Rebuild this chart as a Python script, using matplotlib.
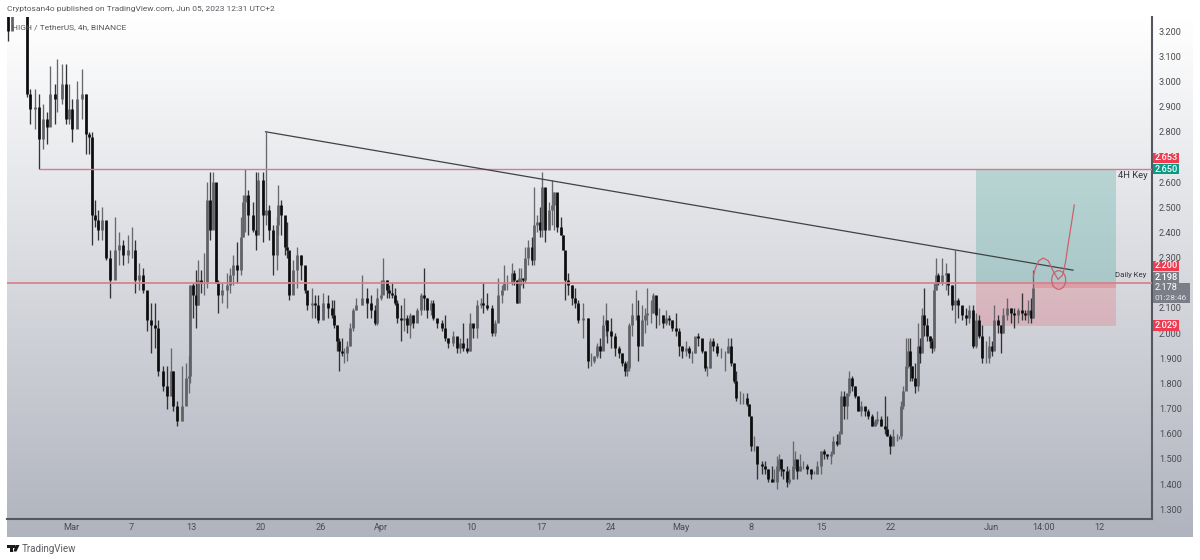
import numpy as np
import matplotlib
matplotlib.use("Agg")
import matplotlib.pyplot as plt
from matplotlib.collections import LineCollection
from matplotlib.patches import Rectangle, Polygon, Ellipse

plt.rcParams['font.family'] = ['Roboto', 'DejaVu Sans']

# ---- candles: day offset from 1 March, high, low, close (open = previous close) ----
d1 = [-6.3,-5.9,-5.5,-5.1,-4.7,-4.4,-4.1,-3.6,-3.2,-2.8,-2.4,-2.1,-1.6,-1.4,-0.9,-0.5,-0.2,0.1,0.6,1.1,1.5,1.8,2.1,2.4,2.7,3.1,3.5,3.9,4.4,4.8,5.2,5.7]
h1 = [3.30,3.45,3.50,3.50,3.42,3.30,2.97,2.97,2.95,2.91,2.88,3.06,2.99,3.09,3.07,3.07,2.99,2.93,3.00,3.05,2.95,2.80,2.80,2.53,2.49,2.50,2.43,2.33,2.46,2.40,2.37,2.39]
l1 = [3.16,3.30,3.35,3.35,3.28,2.94,2.83,2.81,2.65,2.73,2.75,2.88,2.83,2.88,2.91,2.83,2.83,2.76,2.87,2.85,2.71,2.71,2.35,2.42,2.37,2.37,2.29,2.14,2.22,2.27,2.27,2.28]
c1 = [3.20,3.40,3.45,3.40,3.32,2.95,2.89,2.90,2.77,2.85,2.82,2.95,2.93,2.93,2.99,2.85,2.89,2.81,2.93,2.95,2.79,2.78,2.47,2.45,2.41,2.45,2.30,2.21,2.33,2.35,2.31,2.33]

d2 = [6.07,6.4,6.83,7.23,7.57,7.97,8.4,8.73,9.17,9.57,10.03,10.23,10.63,11.07,11.5,11.83,11.9,12.17,12.5,12.73,12.97,13.3,13.63,13.9,14.23,14.5,14.73,15.07,15.57,15.9,16.23,16.57,17.0,17.23,17.4,17.73,18.17,18.5,18.73]
h2 = [2.42,2.37,2.28,2.26,2.15,2.12,2.12,2.05,1.87,1.87,1.94,1.85,1.73,1.87,1.88,1.91,2.19,2.20,2.25,2.29,2.25,2.32,2.60,2.64,2.64,2.59,2.21,2.20,2.24,2.26,2.31,2.36,2.46,2.55,2.65,2.57,2.52,2.64,2.64]
l2 = [2.30,2.16,2.17,2.16,2.01,1.92,1.94,1.83,1.77,1.70,1.75,1.69,1.63,1.65,1.75,1.76,1.80,2.06,2.02,2.11,2.16,2.15,2.18,2.37,2.43,2.20,2.08,2.12,2.10,2.16,2.19,2.20,2.23,2.38,2.40,2.39,2.40,2.33,2.41]
c2 = [2.33,2.21,2.23,2.17,2.05,2.03,2.02,1.85,1.79,1.75,1.85,1.71,1.65,1.71,1.82,1.83,2.19,2.15,2.11,2.21,2.20,2.20,2.53,2.41,2.60,2.20,2.15,2.17,2.19,2.23,2.27,2.25,2.38,2.52,2.55,2.47,2.41,2.39,2.61]

d3 = [19.23,19.45,19.83,20.23,20.57,20.73,20.97,21.4,21.63,21.83,22.23,22.63,22.97,23.4,23.63,24.07,24.4,24.73,25.23,25.73,26.07,26.3,26.63,26.83,27.07,27.3,27.63,27.9,28.17,28.5,29.07,29.57,29.97,30.4,30.63,30.97,31.17,31.57,31.83]
h3 = [2.64,2.80,2.51,2.43,2.46,2.59,2.53,2.44,2.44,2.31,2.29,2.34,2.31,2.26,2.16,2.18,2.15,2.15,2.16,2.15,2.13,2.13,2.03,1.98,1.98,1.94,1.97,2.04,2.10,2.14,2.23,2.18,2.15,2.11,2.18,2.21,2.30,2.21,2.19]
l3 = [2.36,2.43,2.37,2.23,2.25,2.39,2.39,2.31,2.30,2.13,2.16,2.18,2.21,2.16,2.09,2.06,2.06,2.04,2.06,2.06,2.06,2.02,1.93,1.85,1.91,1.88,1.89,1.95,2.01,2.09,2.11,2.06,2.06,2.03,2.03,2.13,2.18,2.14,2.14]
c3 = [2.47,2.49,2.41,2.31,2.43,2.51,2.47,2.34,2.33,2.15,2.25,2.31,2.27,2.17,2.11,2.12,2.11,2.05,2.12,2.10,2.07,2.03,1.97,1.93,1.92,1.92,1.95,2.02,2.09,2.11,2.14,2.12,2.09,2.04,2.14,2.15,2.21,2.17,2.16]

d4 = [32.07,32.4,32.63,32.97,33.3,33.57,33.9,34.23,34.63,34.97,35.3,35.63,35.97,36.23,36.63,37.07,37.4,37.73,38.17,38.57,38.9,39.17,39.63,39.9,40.23,40.57,40.97,41.23,41.63,42.07,42.4,42.73,43.07,43.3,43.63,44.07,44.3,44.57,44.83]
h4 = [2.20,2.18,2.13,2.11,2.14,2.07,2.08,2.07,2.10,2.16,2.26,2.14,2.13,2.13,2.05,2.05,2.07,1.98,2.01,1.98,1.98,2.04,1.98,2.08,2.03,2.13,2.14,2.20,2.16,2.11,2.05,2.22,2.19,2.27,2.23,2.28,2.25,2.21,2.26]
l4 = [2.14,2.11,2.04,1.97,2.01,2.00,1.98,2.02,2.06,2.07,2.09,2.06,2.07,2.05,2.02,2.01,1.97,1.94,1.95,1.92,1.92,1.93,1.92,1.93,1.98,1.98,2.10,2.08,2.09,1.99,1.99,2.05,2.12,2.17,2.17,2.19,2.19,2.12,2.17]
c4 = [2.15,2.12,2.06,2.05,2.06,2.03,2.07,2.04,2.09,2.15,2.14,2.09,2.12,2.06,2.04,2.02,1.98,1.96,1.99,1.94,1.96,1.94,1.93,2.04,2.02,2.11,2.12,2.11,2.10,2.00,2.04,2.15,2.17,2.20,2.20,2.24,2.21,2.12,2.22]

d5 = [45.0,45.23,45.4,45.73,46.07,46.3,46.63,46.9,47.13,47.4,47.83,48.13,48.33,48.63,48.97,49.23,49.4,49.73,50.07,50.4,50.73,51.23,51.67,51.97,52.3,52.63,52.9,53.17,53.47,53.63,53.97,54.4,54.8,55.07,55.4,55.63,55.83,56.13,56.47,56.73,57.07,57.4,57.63]
h5 = [2.26,2.22,2.34,2.37,2.38,2.58,2.47,2.50,2.64,2.57,2.52,2.61,2.56,2.55,2.46,2.39,2.26,2.24,2.19,2.18,2.13,2.12,2.06,1.92,1.91,1.96,1.98,2.07,2.12,2.05,2.06,2.00,1.95,1.92,1.89,1.89,2.04,2.12,2.17,2.13,2.11,2.10,2.18]
l5 = [2.19,2.18,2.20,2.27,2.27,2.27,2.40,2.38,2.38,2.36,2.43,2.43,2.41,2.40,2.39,2.33,2.13,2.15,2.11,2.10,2.04,1.98,1.86,1.87,1.88,1.90,1.90,1.95,1.99,1.96,1.94,1.91,1.90,1.87,1.83,1.83,1.85,1.99,2.05,1.89,1.99,2.00,2.03]
c5 = [2.22,2.21,2.30,2.34,2.29,2.43,2.44,2.41,2.58,2.41,2.49,2.51,2.56,2.42,2.39,2.33,2.21,2.19,2.14,2.12,2.05,2.06,1.89,1.89,1.91,1.95,1.93,2.03,2.05,2.01,1.99,1.94,1.92,1.88,1.85,1.86,2.03,2.07,2.07,1.95,2.05,2.07,2.08]

d6 = [58.0,58.23,58.5,58.83,59.17,59.5,59.83,60.1,60.5,60.83,61.07,61.5,61.83,62.1,62.4,62.73,63.07,63.4,63.63,63.9,64.23,64.57,64.97,65.37,65.73,66.0,66.3,66.5,66.9,67.23,67.57,67.83,68.03,68.3,68.63,69.07,69.4,69.73,70.07,70.3,70.57,70.83]
h6 = [2.13,2.16,2.12,2.10,2.07,2.09,2.07,2.05,2.08,2.02,1.95,1.97,1.95,1.93,1.95,2.00,1.97,1.93,1.87,1.98,1.98,1.96,1.94,1.93,1.98,1.98,1.88,1.85,1.77,1.76,1.76,1.72,1.67,1.59,1.55,1.49,1.49,1.46,1.47,1.46,1.51,1.52]
l6 = [2.04,2.08,2.02,2.03,2.02,2.03,2.03,2.01,1.99,1.91,1.90,1.91,1.90,1.88,1.92,1.95,1.92,1.85,1.83,1.86,1.93,1.91,1.90,1.85,1.92,1.87,1.80,1.73,1.72,1.72,1.71,1.67,1.53,1.53,1.42,1.44,1.44,1.41,1.41,1.41,1.38,1.45]
c6 = [2.08,2.15,2.07,2.07,2.04,2.06,2.05,2.02,2.01,1.95,1.93,1.94,1.92,1.92,1.99,1.98,1.93,1.86,1.86,1.97,1.95,1.92,1.92,1.92,1.95,1.88,1.81,1.74,1.74,1.74,1.72,1.67,1.55,1.55,1.48,1.47,1.46,1.42,1.41,1.41,1.47,1.50]

d7 = [70.97,71.23,71.57,71.83,72.17,72.4,72.63,72.9,73.23,73.63,73.97,74.3,74.63,74.97,75.3,75.63,75.97,76.23,76.57,76.83,77.03,77.3,77.57,77.83,78.07,78.4,78.67,79.0,79.4,79.73,80.07,80.4,80.63,80.97,81.4,81.63,81.9,82.23,82.57,82.83,82.97,83.23,83.5,83.73]
h7 = [1.50,1.46,1.47,1.46,1.57,1.53,1.49,1.52,1.49,1.48,1.46,1.45,1.49,1.53,1.54,1.52,1.53,1.59,1.60,1.61,1.77,1.77,1.76,1.85,1.83,1.79,1.75,1.73,1.70,1.70,1.68,1.66,1.69,1.67,1.75,1.67,1.60,1.62,1.60,1.59,1.73,1.79,1.98,1.98]
l7 = [1.43,1.42,1.39,1.40,1.42,1.46,1.42,1.45,1.46,1.44,1.42,1.44,1.44,1.44,1.50,1.50,1.48,1.53,1.55,1.56,1.61,1.66,1.66,1.75,1.77,1.74,1.69,1.67,1.67,1.66,1.63,1.63,1.64,1.63,1.60,1.59,1.52,1.56,1.57,1.58,1.58,1.70,1.83,1.86]
c7 = [1.46,1.45,1.41,1.42,1.47,1.50,1.45,1.47,1.47,1.46,1.44,1.44,1.47,1.53,1.52,1.51,1.52,1.57,1.56,1.60,1.75,1.71,1.76,1.82,1.79,1.75,1.69,1.71,1.69,1.67,1.63,1.65,1.66,1.63,1.62,1.59,1.55,1.59,1.59,1.59,1.71,1.77,1.87,1.93]

d8 = [83.9,84.13,84.4,84.67,84.9,85.07,85.33,85.57,85.9,86.13,86.3,86.47,86.73,87.07,87.47,87.73,88.07,88.4,88.73,89.07,89.47,89.8,90.17,90.47,90.8,91.13,91.5,91.8,92.13,92.33,92.67,92.97,93.23,93.63,94.0,94.33,94.73,95.07,95.4,95.73,96.0,96.23]
h8 = [1.98,1.87,1.88,2.04,1.98,2.10,2.18,2.06,1.99,1.98,2.20,2.30,2.24,2.30,2.28,2.23,2.19,2.33,2.14,2.10,2.10,2.11,2.11,2.08,2.07,2.03,1.97,1.99,1.97,2.11,2.07,2.03,2.10,2.14,2.10,2.10,2.10,2.16,2.09,2.13,2.14,2.25]
l8 = [1.81,1.81,1.76,1.77,1.88,1.93,1.99,1.97,1.94,1.92,1.93,2.17,2.19,2.19,2.17,2.15,2.09,2.04,2.06,2.05,2.03,2.04,1.94,1.94,1.98,1.88,1.88,1.88,1.91,1.94,2.00,1.92,2.00,2.05,2.04,2.02,2.04,2.05,2.05,2.04,2.04,2.06]
c8 = [1.87,1.82,1.79,1.95,1.92,2.07,2.03,1.99,1.97,1.94,2.17,2.23,2.20,2.23,2.24,2.19,2.11,2.13,2.11,2.07,2.06,2.09,1.95,2.05,1.99,1.90,1.90,1.95,1.93,2.05,2.03,2.00,2.07,2.10,2.08,2.07,2.09,2.08,2.07,2.09,2.06,2.18]

days = np.array(d1 + d2 + d3 + d4 + d5 + d6 + d7 + d8)
highs = np.array(h1 + h2 + h3 + h4 + h5 + h6 + h7 + h8)
lows = np.array(l1 + l2 + l3 + l4 + l5 + l6 + l7 + l8)
closes = np.array(c1 + c2 + c3 + c4 + c5 + c6 + c7 + c8)
opens = np.concatenate([[3.3], closes[:-1]])

# ---- axes values ----
price_ticks = [1.3,1.4,1.5,1.6,1.7,1.8,1.9,2.0,2.1,2.3,2.4,2.5,2.6,2.8,2.9,3.0,3.1,3.2]
time_ticks = [0,6,12,19,25,31,40,47,54,61,68,75,82,92,97.3,102.8]
time_labels = ['Mar','7','13','20','26','Apr','10','17','24','May','8','15','22','Jun','14:00','12']

# ---- drawings ----
key_high = 2.65
key_low = 2.198
key_high_start = -3.1
trend_days = [19.45, 100.2]
trend_prices = [2.80, 2.25]
pos_days = [90.5, 104.5]
pos_target = 2.65
pos_entry = 2.198
pos_stop = 2.029
pos_now = 2.178
pos_now_start = 96.23
sketch_days = [96.23,96.43,96.77,97.23,97.73,98.17,98.70,99.17,99.43,99.73,100.07,100.33]
sketch_prices = [2.224,2.257,2.287,2.298,2.287,2.250,2.213,2.231,2.277,2.357,2.442,2.509]
loop_center = (98.77, 2.211)
loop_size = (1.4, 0.074)

W, H = 1200, 560
fig = plt.figure(figsize=(W/100, H/100), dpi=100, facecolor='white')

def fx(x): return x / W
def fy(y): return 1 - y / H

# background gradient panel
bg = fig.add_axes([fx(7), fy(537), fx(1193) - fx(7), fy(17) - fy(537)], zorder=-1)
grad = np.linspace(0, 1, 256).reshape(-1, 1)
top = np.array([1.0, 1.0, 1.0])
bottom = np.array([0.69, 0.705, 0.745])
bg.imshow(top + grad[:, :, None] * (bottom - top), aspect='auto', extent=[0, 1, 0, 1], origin='upper')
bg.axis('off')

# main axes
ax = fig.add_axes([fx(7), fy(519), fx(1152) - fx(7), fy(17) - fy(519)], facecolor='none')
ax.set_xlim(-6.4, 108.1)
ax.set_ylim(1.261, 3.256)
for s in ['top', 'left']:
    ax.spines[s].set_visible(False)
for s in ['right', 'bottom']:
    ax.spines[s].set_color('#55575e')
    ax.spines[s].set_linewidth(1.5)
ax.yaxis.tick_right()
ax.set_yticks(price_ticks)
ax.set_yticklabels([f'{p:.3f}' for p in price_ticks])
ax.set_xticks(time_ticks)
ax.set_xticklabels(time_labels)
ax.tick_params(axis='y', length=0, pad=5, labelsize=6.6, labelcolor='#4a4c52')
ax.tick_params(axis='x', length=0, pad=3, labelsize=6.6, labelcolor='#4a4c52')

# position zones
ax.add_patch(Rectangle((pos_days[0], pos_entry), pos_days[1]-pos_days[0], pos_target-pos_entry,
                       facecolor='#0f8f80', alpha=0.22, lw=0, zorder=1))
ax.add_patch(Rectangle((pos_days[0], pos_stop), pos_days[1]-pos_days[0], pos_entry-pos_stop,
                       facecolor='#ee4a5c', alpha=0.22, lw=0, zorder=1))
ax.add_patch(Rectangle((pos_now_start, pos_now), pos_days[1]-pos_now_start, pos_entry-pos_now,
                       facecolor='#e2525f', alpha=0.26, lw=0, zorder=1.1))

# candles
up = closes >= opens
wicks = [[(d, l), (d, h)] for d, l, h in zip(days, lows, highs)]
bodies = [[(d, o), (d, c)] for d, o, c in zip(days, opens, closes)]
ax.add_collection(LineCollection(wicks, colors=['#66686d' if u else '#333335' for u in up],
                                 linewidths=0.95, zorder=2))
ax.add_collection(LineCollection(bodies, colors=['#5f6166' if u else '#0c0c0e' for u in up],
                                 linewidths=1.95, capstyle='butt', zorder=3))

# horizontal keys
ax.plot([key_high_start, 108.1], [key_high, key_high], color='#d67c86', lw=1.0, zorder=4)
ax.plot([-6.4, 108.1], [key_low, key_low], color='#d8808a', lw=1.25, zorder=4)

# trend line
ax.plot(trend_days, trend_prices, color='#3f4146', lw=0.9, zorder=5)

# hand sketch
ax.plot(sketch_days, sketch_prices, color='#c9626c', lw=0.9, solid_joinstyle='round', zorder=6)
ax.add_patch(Ellipse(loop_center, loop_size[0], loop_size[1], fill=False, edgecolor='#c9626c', lw=0.9, zorder=6))

# tags on the price scale
def tag(y0, y1, color, text, x1=1179):
    fig.add_artist(Rectangle((fx(1153), fy(y1)), fx(x1) - fx(1153), fy(y0) - fy(y1),
                             transform=fig.transFigure, facecolor=color, lw=0, zorder=5))
    fig.text(fx(1166), fy((y0 + y1) / 2), text, color='white', fontsize=6.6, fontweight='medium',
             ha='center', va='center', zorder=6)

tag(153, 163, '#ee3b50', '2.653')
tag(164, 174, '#0b9a83', '2.650')
tag(261, 271, '#ee3b50', '2.200')
tag(272, 283, '#7b7e88', '2.198')
tag(320, 331, '#ee3b50', '2.029')
fig.add_artist(Rectangle((fx(1153), fy(303)), fx(1190) - fx(1153), fy(283) - fy(303),
                         transform=fig.transFigure, facecolor='#7b7e88', lw=0, zorder=5))
fig.text(fx(1166), fy(288), '2.178', color='white', fontsize=6.6, ha='center', va='center', zorder=6)
fig.text(fx(1171), fy(298), '01:28:46', color='#e4e5e8', fontsize=6.0, ha='center', va='center', zorder=6)

# texts
fig.text(fx(7), fy(9.5), 'Cryptosan4o published on TradingView.com, Jun 05, 2023 12:31 UTC+2',
         fontsize=6.0, color='#55575c', va='center', ha='left')
fig.text(fx(12), fy(27.5), 'HIGH / TetherUS, 4h, BINANCE', fontsize=6.0, color='#55575c', va='center', ha='left', zorder=7)
fig.text(fx(1118), fy(175), '4H Key', fontsize=6.8, color='#33353a', va='center', ha='left', zorder=7)
fig.text(fx(1115), fy(275), 'Daily Key', fontsize=5.6, color='#33353a', va='center', ha='left', zorder=7)
fig.text(fx(22), fy(548.5), 'TradingView', fontsize=7.0, color='#5a5c62', va='center', ha='left')

# logo
fig.add_artist(Rectangle((fx(7), fy(547.5)), fx(5.5), 2.5 / H, transform=fig.transFigure, facecolor='#1a1a1c', lw=0))
fig.add_artist(Rectangle((fx(9.5), fy(551.5)), fx(3), 4.5 / H, transform=fig.transFigure, facecolor='#1a1a1c', lw=0))
fig.add_artist(Rectangle((fx(13), fy(547.5)), fx(2), 2.5 / H, transform=fig.transFigure, facecolor='#1a1a1c', lw=0))
fig.add_artist(Polygon([(fx(15.5), fy(545)), (fx(19.5), fy(545)), (fx(16.5), fy(551.5)), (fx(13.5), fy(551.5))],
                       transform=fig.transFigure, facecolor='#1a1a1c', lw=0))

fig.savefig('out.png', dpi=100)
